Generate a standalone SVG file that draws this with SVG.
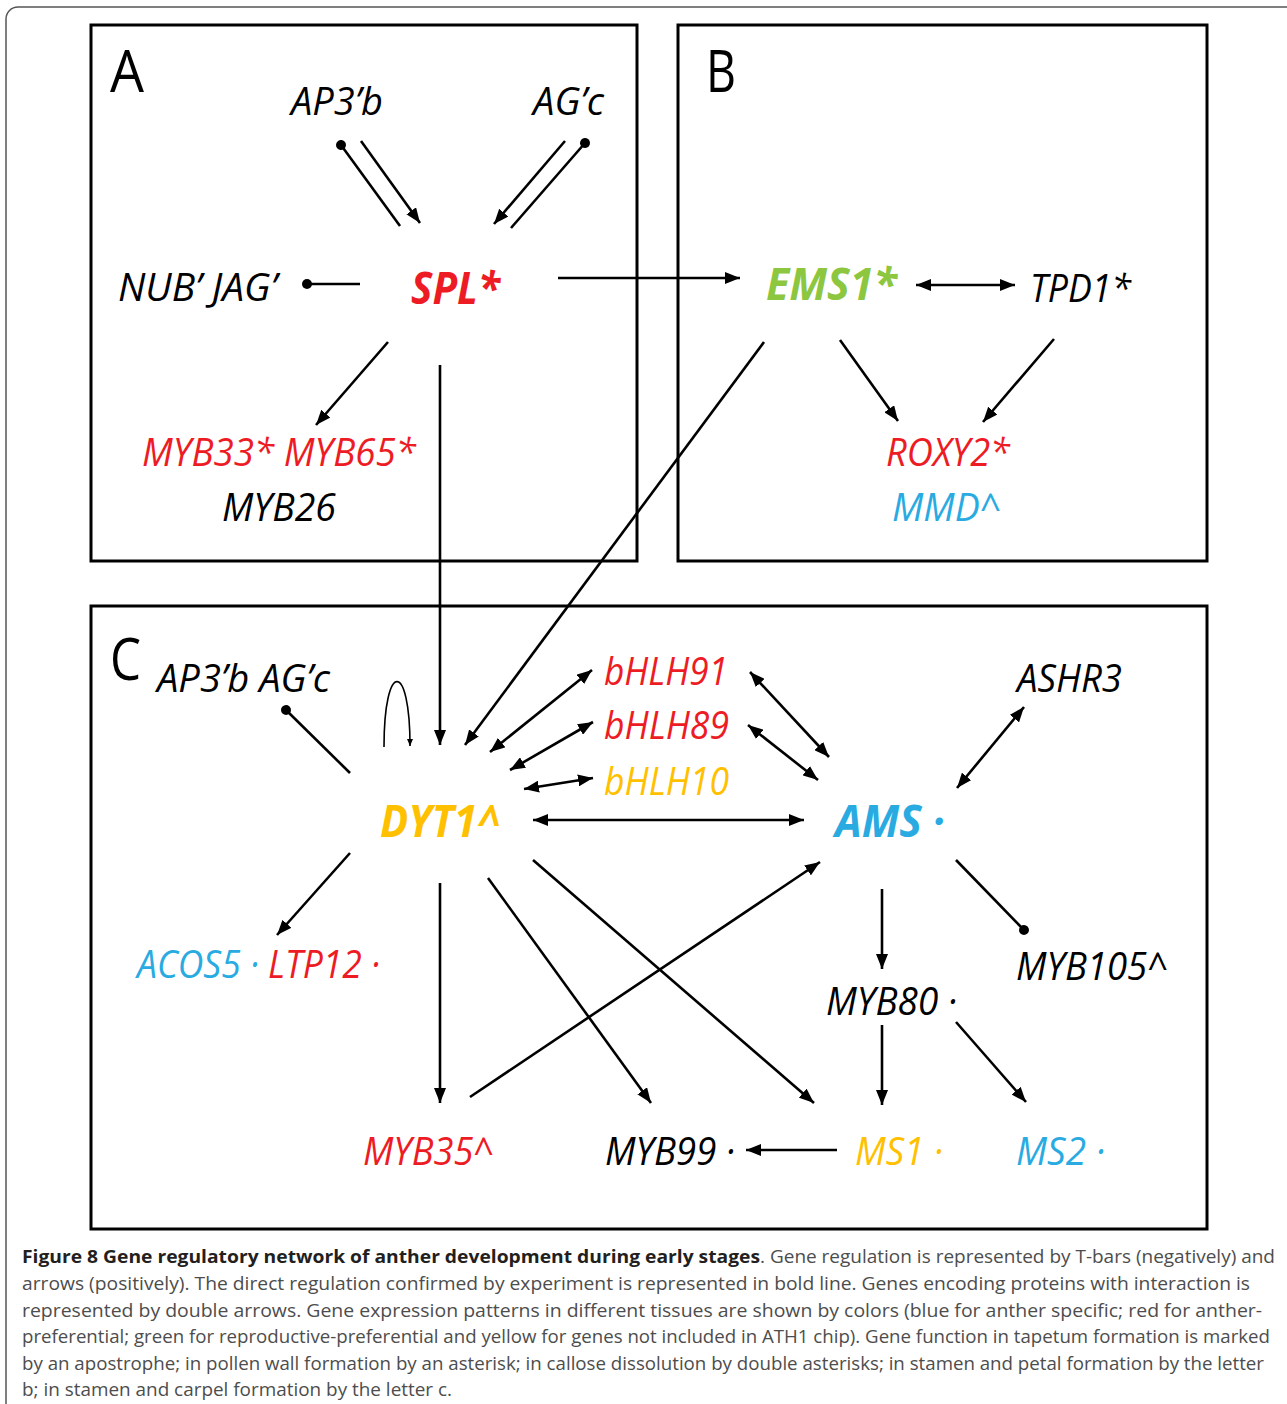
<svg xmlns="http://www.w3.org/2000/svg" width="1287" height="1404" viewBox="0 0 1287 1404">
  <style>
    .panel { fill: none; stroke: #000; stroke-width: 3; }
    .gene { font-family: "Open Sans", "Liberation Sans", sans-serif; font-style: italic; font-size: 38px; }
    .key { font-weight: bold; font-size: 45px; }
    .letter { font-family: "Open Sans", "Liberation Sans", sans-serif; font-size: 58px; fill: #000; }
    .blk { fill: #000; }
    .red { fill: #ed1c24; }
    .grn { fill: #8dc63f; }
    .blu { fill: #29abe2; }
    .yel { fill: #ffc000; }
    .edge { fill: none; stroke: #000; stroke-width: 2.6; }
    .thin { fill: none; stroke: #000; stroke-width: 1.6; }
    .act { marker-end: url(#arrow); }
    .both { marker-start: url(#arrow); marker-end: url(#arrow); }
    .rep { marker-end: url(#dot); }
    .repS { marker-start: url(#dot); }
    .cap { font-family: "Open Sans", "Liberation Sans", sans-serif; font-size: 18px; fill: #4d4d4d; }
    .capb { font-weight: bold; fill: #231f20; }
  </style>
  <defs>
    <marker id="arrow" markerUnits="userSpaceOnUse" markerWidth="16" markerHeight="12" refX="15" refY="6" orient="auto-start-reverse">
      <path d="M0,0 L15,6 L0,12 Z" fill="#000"/>
    </marker>
    <marker id="arrowSmall" markerUnits="userSpaceOnUse" markerWidth="8" markerHeight="6" refX="7" refY="3" orient="auto">
      <path d="M0,0 L7,3 L0,6 Z" fill="#000"/>
    </marker>
    <marker id="dot" markerUnits="userSpaceOnUse" markerWidth="12" markerHeight="12" refX="6" refY="6" orient="auto">
      <circle cx="6" cy="6" r="5" fill="#000"/>
    </marker>
  </defs>

  <rect width="1287" height="1404" fill="#fff"/>
  <!-- outer figure frame -->
  <rect x="6" y="7" width="1310" height="1430" rx="12" fill="none" stroke="#555" stroke-width="1.5"/>

  <!-- panels -->
  <rect class="panel" x="91" y="25" width="546" height="536"/>
  <rect class="panel" x="678" y="25" width="529" height="536"/>
  <rect class="panel" x="91" y="606" width="1116" height="623"/>
  <text class="letter" x="110" y="92" textLength="34" lengthAdjust="spacingAndGlyphs">A</text>
  <text class="letter" x="706" y="92" textLength="30" lengthAdjust="spacingAndGlyphs">B</text>
  <text class="letter" x="110" y="680" textLength="31" lengthAdjust="spacingAndGlyphs">C</text>

  <!-- connectors -->
  <g id="connectors">
    <!-- panel A -->
    <line class="edge repS" x1="341" y1="145" x2="400" y2="226"/>
    <line class="edge act" x1="361" y1="141" x2="420" y2="223"/>
    <line class="edge act" x1="565" y1="141" x2="494" y2="224"/>
    <line class="edge repS" x1="585" y1="143" x2="511" y2="228"/>
    <line class="edge repS" x1="307" y1="284" x2="360" y2="284"/>
    <line class="edge act" x1="558" y1="278" x2="740" y2="278"/>
    <line class="edge act" x1="388" y1="342" x2="316" y2="425"/>
    <line class="edge act" x1="440" y1="365" x2="440" y2="745"/>
    <!-- panel B -->
    <line class="edge both" x1="916" y1="285" x2="1015" y2="285"/>
    <line class="edge act" x1="840" y1="340" x2="898" y2="421"/>
    <line class="edge act" x1="1054" y1="339" x2="983" y2="422"/>
    <line class="edge act" x1="764" y1="342" x2="465" y2="745"/>
    <!-- panel C -->
    <line class="edge rep" x1="350" y1="773" x2="286" y2="710"/>
    <path class="thin" d="M384,747 C384,660 410,660 410,746" marker-end="url(#arrowSmall)"/>
    <line class="edge both" x1="490" y1="752" x2="592" y2="670"/>
    <line class="edge both" x1="510" y1="770" x2="593" y2="722"/>
    <line class="edge both" x1="524" y1="789" x2="593" y2="778"/>
    <line class="edge both" x1="533" y1="820" x2="804" y2="820"/>
    <line class="edge both" x1="750" y1="672" x2="829" y2="757"/>
    <line class="edge both" x1="748" y1="725" x2="818" y2="780"/>
    <line class="edge both" x1="1024" y1="707" x2="957" y2="788"/>
    <line class="edge act" x1="350" y1="853" x2="277" y2="935"/>
    <line class="edge act" x1="440" y1="883" x2="440" y2="1103"/>
    <line class="edge act" x1="470" y1="1097" x2="820" y2="862"/>
    <line class="edge act" x1="488" y1="878" x2="651" y2="1103"/>
    <line class="edge act" x1="533" y1="860" x2="814" y2="1103"/>
    <line class="edge act" x1="882" y1="889" x2="882" y2="969"/>
    <line class="edge rep" x1="956" y1="860" x2="1024" y2="930"/>
    <line class="edge act" x1="882" y1="1025" x2="882" y2="1105"/>
    <line class="edge act" x1="956" y1="1022" x2="1026" y2="1102"/>
    <line class="edge act" x1="837" y1="1150" x2="746" y2="1150"/>
  </g>

  <!-- genes: panel A -->
  <g id="AP3b-A"><text class="gene blk" x="291" y="115" textLength="92" lengthAdjust="spacingAndGlyphs">AP3’b</text></g>
  <g id="AGc-A"><text class="gene blk" x="533" y="115" textLength="71" lengthAdjust="spacingAndGlyphs">AG’c</text></g>
  <g id="NUB-JAG"><text class="gene blk" x="118" y="301" textLength="159" lengthAdjust="spacingAndGlyphs">NUB’ JAG’</text></g>
  <g id="SPL"><text class="gene key red" x="411" y="304" textLength="89" lengthAdjust="spacingAndGlyphs">SPL*</text></g>
  <g id="MYB33-MYB65"><text class="gene red" x="142" y="466" textLength="274" lengthAdjust="spacingAndGlyphs">MYB33* MYB65*</text></g>
  <g id="MYB26"><text class="gene blk" x="222" y="521" textLength="114" lengthAdjust="spacingAndGlyphs">MYB26</text></g>

  <!-- genes: panel B -->
  <g id="EMS1"><text class="gene key grn" x="766" y="300" textLength="131" lengthAdjust="spacingAndGlyphs">EMS1*</text></g>
  <g id="TPD1"><text class="gene blk" x="1030" y="302" textLength="101" lengthAdjust="spacingAndGlyphs">TPD1*</text></g>
  <g id="ROXY2"><text class="gene red" x="886" y="466" textLength="124" lengthAdjust="spacingAndGlyphs">ROXY2*</text></g>
  <g id="MMD"><text class="gene blu" x="892" y="521" textLength="109" lengthAdjust="spacingAndGlyphs">MMD^</text></g>

  <!-- genes: panel C -->
  <g id="AP3b-AGc-C"><text class="gene blk" x="157" y="692" textLength="173" lengthAdjust="spacingAndGlyphs">AP3’b AG’c</text></g>
  <g id="bHLH91"><text class="gene red" x="604" y="685" textLength="124" lengthAdjust="spacingAndGlyphs">bHLH91</text></g>
  <g id="bHLH89"><text class="gene red" x="604" y="739" textLength="125" lengthAdjust="spacingAndGlyphs">bHLH89</text></g>
  <g id="bHLH10"><text class="gene yel" x="604" y="795" textLength="125" lengthAdjust="spacingAndGlyphs">bHLH10</text></g>
  <g id="ASHR3"><text class="gene blk" x="1017" y="692" textLength="105" lengthAdjust="spacingAndGlyphs">ASHR3</text></g>
  <g id="DYT1"><text class="gene key yel" x="380" y="837" textLength="120" lengthAdjust="spacingAndGlyphs">DYT1^</text></g>
  <g id="AMS"><text class="gene key blu" x="835" y="837" textLength="110" lengthAdjust="spacingAndGlyphs">AMS ·</text></g>
  <g id="ACOS5-LTP12"><text class="gene" x="137" y="978" textLength="243" lengthAdjust="spacingAndGlyphs"><tspan class="blu">ACOS5 · </tspan><tspan class="red">LTP12 ·</tspan></text></g>
  <g id="MYB105"><text class="gene blk" x="1016" y="980" textLength="152" lengthAdjust="spacingAndGlyphs">MYB105^</text></g>
  <g id="MYB80"><text class="gene blk" x="826" y="1015" textLength="131" lengthAdjust="spacingAndGlyphs">MYB80 ·</text></g>
  <g id="MYB35"><text class="gene red" x="363" y="1165" textLength="131" lengthAdjust="spacingAndGlyphs">MYB35^</text></g>
  <g id="MYB99"><text class="gene blk" x="605" y="1165" textLength="130" lengthAdjust="spacingAndGlyphs">MYB99 ·</text></g>
  <g id="MS1"><text class="gene yel" x="855" y="1165" textLength="88" lengthAdjust="spacingAndGlyphs">MS1 ·</text></g>
  <g id="MS2"><text class="gene blu" x="1016" y="1165" textLength="89" lengthAdjust="spacingAndGlyphs">MS2 ·</text></g>

  <!-- caption -->
  <g id="caption">
    <text class="cap capb" x="22" y="1263" textLength="738" lengthAdjust="spacingAndGlyphs">Figure 8 Gene regulatory network of anther development during early stages</text>
    <text class="cap" x="760" y="1263" textLength="515" lengthAdjust="spacingAndGlyphs">. Gene regulation is represented by T-bars (negatively) and</text>
    <text class="cap" x="22" y="1290" textLength="1228" lengthAdjust="spacingAndGlyphs">arrows (positively). The direct regulation confirmed by experiment is represented in bold line. Genes encoding proteins with interaction is</text>
    <text class="cap" x="22" y="1317" textLength="1240" lengthAdjust="spacingAndGlyphs">represented by double arrows. Gene expression patterns in different tissues are shown by colors (blue for anther specific; red for anther-</text>
    <text class="cap" x="22" y="1343" textLength="1248" lengthAdjust="spacingAndGlyphs">preferential; green for reproductive-preferential and yellow for genes not included in ATH1 chip). Gene function in tapetum formation is marked</text>
    <text class="cap" x="22" y="1370" textLength="1242" lengthAdjust="spacingAndGlyphs">by an apostrophe; in pollen wall formation by an asterisk; in callose dissolution by double asterisks; in stamen and petal formation by the letter</text>
    <text class="cap" x="22" y="1396" textLength="430" lengthAdjust="spacingAndGlyphs">b; in stamen and carpel formation by the letter c.</text>
  </g>
</svg>
